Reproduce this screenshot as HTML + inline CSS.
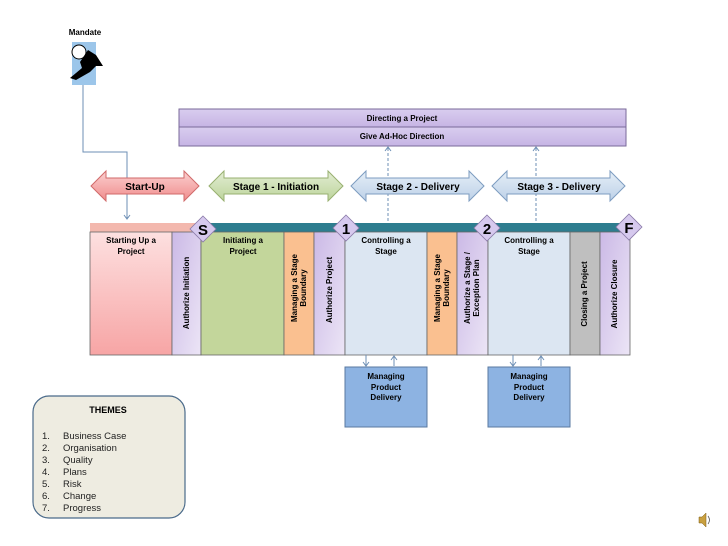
<!DOCTYPE html>
<html><head><meta charset="utf-8"><style>
body{margin:0;background:#fff}
svg{display:block;font-family:"Liberation Sans",sans-serif}
</style></head><body>
<svg width="728" height="546" viewBox="0 0 728 546" xmlns="http://www.w3.org/2000/svg">
<defs>
<linearGradient id="pu" x1="0" y1="0" x2="1" y2="1"><stop offset="0" stop-color="#cbb9e6"/><stop offset="1" stop-color="#ece5f6"/></linearGradient>
<linearGradient id="pk" x1="0" y1="0" x2="0" y2="1"><stop offset="0" stop-color="#fde0e0"/><stop offset="1" stop-color="#f7a5a5"/></linearGradient>
<linearGradient id="ar1" x1="0" y1="0" x2="0" y2="1"><stop offset="0" stop-color="#fbd0d0"/><stop offset="1" stop-color="#f08c8c"/></linearGradient>
<linearGradient id="ar2" x1="0" y1="0" x2="0" y2="1"><stop offset="0" stop-color="#e3edd3"/><stop offset="1" stop-color="#bcd49b"/></linearGradient>
<linearGradient id="ar3" x1="0" y1="0" x2="0" y2="1"><stop offset="0" stop-color="#e5eef7"/><stop offset="1" stop-color="#bdd1e8"/></linearGradient>
<linearGradient id="dir" x1="0" y1="0" x2="0" y2="1"><stop offset="0" stop-color="#d9cdef"/><stop offset="1" stop-color="#c6b4e4"/></linearGradient>
</defs>
<text x="85" y="35" font-size="8" font-weight="bold" text-anchor="middle">Mandate</text>
<rect x="72" y="42" width="24" height="43" fill="#9cc6ea"/>
<circle cx="79" cy="52" r="7" fill="#fff" stroke="#000" stroke-width="1"/>
<path d="M80 62 L88 50 L96 55 L103 66 L96 66 L90 72 L76 80 L70 78 L82 68 Z" fill="#000"/>
<path d="M83 85 V152 H127 V218" fill="none" stroke="#6d8fb5" stroke-width="1"/>
<path d="M124 215 L127 219 L130 215" fill="none" stroke="#6d8fb5"/>
<rect x="179" y="109" width="447" height="18" fill="url(#dir)" stroke="#7a6a9a"/>
<rect x="179" y="127" width="447" height="19" fill="url(#dir)" stroke="#7a6a9a"/>
<text x="402" y="121" font-size="8" font-weight="bold" text-anchor="middle">Directing a Project</text>
<text x="402" y="139" font-size="8" font-weight="bold" text-anchor="middle">Give Ad-Hoc Direction</text>
<g stroke="#6d8fb5" stroke-dasharray="3,2" fill="none"><path d="M388 148 V223"/><path d="M536 148 V223"/></g>
<g stroke="#6d8fb5" fill="none"><path d="M385 151 L388 147 L391 151"/><path d="M533 151 L536 147 L539 151"/></g>
<g font-size="10" font-weight="bold" text-anchor="middle">
<path d="M91 186 L106 171 L106 178 L184 178 L184 171 L199 186 L184 201 L184 194 L106 194 L106 201 Z" fill="url(#ar1)" stroke="#d06a6a"/>
<text x="145" y="190">Start-Up</text>
<path d="M209 186 L224 171 L224 178 L328 178 L328 171 L343 186 L328 201 L328 194 L224 194 L224 201 Z" fill="url(#ar2)" stroke="#98b070"/>
<text x="276" y="190">Stage 1 - Initiation</text>
<path d="M351 186 L366 171 L366 178 L469 178 L469 171 L484 186 L469 201 L469 194 L366 194 L366 201 Z" fill="url(#ar3)" stroke="#7d9cc0"/>
<text x="418" y="190">Stage 2 - Delivery</text>
<path d="M492 186 L507 171 L507 178 L610 178 L610 171 L625 186 L610 201 L610 194 L507 194 L507 201 Z" fill="url(#ar3)" stroke="#7d9cc0"/>
<text x="559" y="190">Stage 3 - Delivery</text>
</g>
<rect x="90" y="223" width="540" height="9" fill="#2e7d8f"/>
<rect x="90" y="223" width="110" height="9" fill="#f3b8ae"/>
<g stroke="#666" stroke-width="0.8">
<rect x="90" y="232" width="82" height="123" fill="url(#pk)"/>
<rect x="172" y="232" width="29" height="123" fill="url(#pu)"/>
<rect x="201" y="232" width="83" height="123" fill="#c3d69b"/>
<rect x="284" y="232" width="30" height="123" fill="#fac090"/>
<rect x="314" y="232" width="31" height="123" fill="url(#pu)"/>
<rect x="345" y="232" width="82" height="123" fill="#dce6f2"/>
<rect x="427" y="232" width="30" height="123" fill="#fac090"/>
<rect x="457" y="232" width="31" height="123" fill="url(#pu)"/>
<rect x="488" y="232" width="82" height="123" fill="#dce6f2"/>
<rect x="570" y="232" width="30" height="123" fill="#bfbfbf"/>
<rect x="600" y="232" width="30" height="123" fill="url(#pu)"/>
</g>
<g font-size="8" font-weight="bold" text-anchor="middle">
<text x="131" y="243">Starting Up a</text><text x="131" y="254">Project</text>
<text x="243" y="243">Initiating a</text><text x="243" y="254">Project</text>
<text x="386" y="243">Controlling a</text><text x="386" y="254">Stage</text>
<text x="529" y="243">Controlling a</text><text x="529" y="254">Stage</text>
<text transform="translate(189,293) rotate(-90)">Authorize Initiation</text>
<text transform="translate(297,288) rotate(-90)">Managing a Stage</text>
<text transform="translate(306,288) rotate(-90)">Boundary</text>
<text transform="translate(332,290) rotate(-90)">Authorize Project</text>
<text transform="translate(440,288) rotate(-90)">Managing a Stage</text>
<text transform="translate(449,288) rotate(-90)">Boundary</text>
<text transform="translate(470,288) rotate(-90)">Authorize a Stage /</text>
<text transform="translate(479,288) rotate(-90)">Exception Plan</text>
<text transform="translate(587,294) rotate(-90)">Closing a Project</text>
<text transform="translate(617,294) rotate(-90)">Authorize Closure</text>
</g>
<g stroke="#8a7aa8" fill="#d6c9ee" stroke-width="0.8">
<path d="M203 216 L216 229 L203 242 L190 229 Z"/>
<path d="M346 215 L359 228 L346 241 L333 228 Z"/>
<path d="M487 215 L500 228 L487 241 L474 228 Z"/>
<path d="M629 214 L642 227 L629 240 L616 227 Z"/>
</g>
<g font-size="15" font-weight="bold" text-anchor="middle">
<text x="203" y="235">S</text><text x="346" y="234">1</text><text x="487" y="234">2</text><text x="629" y="233">F</text>
</g>
<g stroke="#6d8fb5" fill="none">
<path d="M366 355 V366"/><path d="M363 362 L366 366 L369 362"/>
<path d="M394 356 V366"/><path d="M391 360 L394 356 L397 360"/>
<path d="M513 355 V366"/><path d="M510 362 L513 366 L516 362"/>
<path d="M541 356 V366"/><path d="M538 360 L541 356 L544 360"/>
</g>
<rect x="345" y="367" width="82" height="60" fill="#8db3e2" stroke="#5a7aa0"/>
<rect x="488" y="367" width="82" height="60" fill="#8db3e2" stroke="#5a7aa0"/>
<g font-size="8" font-weight="bold" text-anchor="middle">
<text x="386" y="379">Managing</text><text x="386" y="390">Product</text><text x="386" y="400">Delivery</text>
<text x="529" y="379">Managing</text><text x="529" y="390">Product</text><text x="529" y="400">Delivery</text>
</g>
<rect x="33" y="396" width="152" height="122" rx="16" fill="#eeece1" stroke="#4a6a8a" stroke-width="1.2"/>
<text x="108" y="413" font-size="9" font-weight="bold" text-anchor="middle">THEMES</text>
<g font-size="9.5" fill="#222">
<text x="42" y="439">1.</text><text x="63" y="439">Business Case</text>
<text x="42" y="451">2.</text><text x="63" y="451">Organisation</text>
<text x="42" y="463">3.</text><text x="63" y="463">Quality</text>
<text x="42" y="475">4.</text><text x="63" y="475">Plans</text>
<text x="42" y="487">5.</text><text x="63" y="487">Risk</text>
<text x="42" y="499">6.</text><text x="63" y="499">Change</text>
<text x="42" y="511">7.</text><text x="63" y="511">Progress</text>
</g>
<path d="M699 517 H702 L706 513 V527 L702 523 H699 Z" fill="#c9a040" stroke="#7a5a10" stroke-width="0.5"/>
<path d="M708 516 Q711 520 708 524" fill="none" stroke="#555" stroke-width="0.8"/>
</svg>
</body></html>
